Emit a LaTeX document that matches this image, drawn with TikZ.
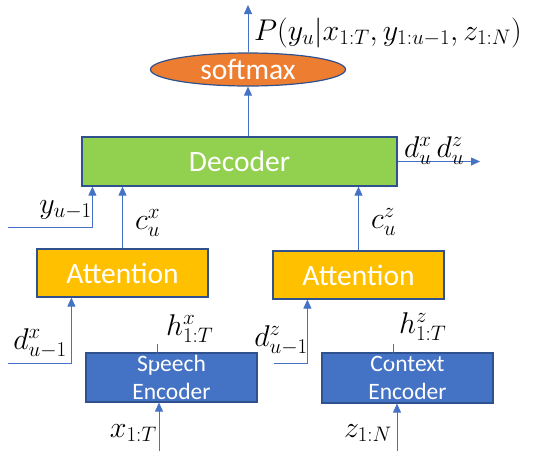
\RequirePackage{fix-cm}
\documentclass[tikz,border=0pt]{standalone}
\usepackage{fontspec}
\setsansfont{Carlito}
\usetikzlibrary{shapes.geometric,arrows.meta,calc}
\definecolor{decgreen}{RGB}{146,208,80}
\definecolor{smorange}{RGB}{237,125,49}
\definecolor{attgold}{RGB}{255,192,0}
\definecolor{encblue}{RGB}{68,114,196}
\definecolor{bordc}{RGB}{47,82,143}
\definecolor{linec}{RGB}{68,114,196}
\begin{document}
\begin{tikzpicture}[x=1pt,y=-1pt,
  box/.style={draw=bordc, line width=1.2pt, inner sep=0pt, text=white, font=\sffamily\fontsize{29.5}{30}\selectfont},
  encbox/.style={box, fill=encblue, minimum width=171pt, minimum height=49pt, align=center, font=\sffamily\fontsize{23.5}{28}\selectfont},
  arr/.style={draw=linec, line width=0.8pt, -{Triangle[length=9pt,width=8pt]}},
  lab/.style={inner sep=0pt, font=\fontsize{30}{32}\selectfont}]
\useasboundingbox (0,0) rectangle (541,451);
% nodes
\node[box, ellipse, fill=smorange, minimum width=195pt, minimum height=33pt] (sm) at (248,69.5) {softmax};
\node[box, fill=decgreen, minimum width=315pt, minimum height=49pt] (dec) at (239.5,161.5) {Decoder};
\node[box, fill=attgold, minimum width=171pt, minimum height=48pt] (att1) at (122.5,273) {Attention};
\node[box, fill=attgold, minimum width=171pt, minimum height=48pt] (att2) at (358.5,275) {Attention};
\node[encbox] (spe) at (171.5,377.5) {Speech\\Encoder};
\node[encbox, minimum height=50pt] (ctx) at (407.5,378) {Context\\Encoder};
% free ends
\coordinate (pout) at (248,5);
\coordinate (dout) at (480,161.5);
\coordinate (yin) at (8,227);
\coordinate (dxin) at (8,363);
\coordinate (dzin) at (274,363);
\coordinate (xin) at (159,451);
\coordinate (zin) at (397,451);
% connectors
\draw[arr] (sm.north) -- (pout);
\draw[arr] (dec.north -| sm.south) -- (sm.south);
\draw[arr] (dec.east) -- (dout);
\draw[arr] (yin) -| ($(dec.south west)+(11,0)$);
\draw[arr] (att1.north) -- (att1.north |- dec.south);
\draw[arr] (att2.north) -- (att2.north |- dec.south);
\draw[arr] (dxin) -| ($(att1.south west)+(35,0)$);
\draw[arr] ($(spe.north)+(-14.5,0)$) -- ($(spe.north)+(-14.5,0)$ |- att1.south);
\draw[arr] (dzin) -| ($(att2.south west)+(35,0)$);
\draw[arr] ($(ctx.north)+(-14.5,0)$) -- ($(ctx.north)+(-14.5,0)$ |- att2.south);
\draw[arr] (xin) -- (xin |- spe.south);
\draw[arr] (zin) -- (zin |- ctx.south);
% labels
\node[lab, anchor=base west] (lp) at (254,40) {$P(y_u|x_{1:T},y_{1:u-1},z_{1:N})$};
\node[lab, anchor=base west] (ld) at (404,157) {$d_u^x\,d_u^z$};
\node[lab, anchor=base east] (ly) at (92,213) {$y_{u-1}$};
\node[lab, anchor=base west] (lcx) at (135,229) {$c_u^x$};
\node[lab, anchor=base west] (lcz) at (371,228) {$c_u^z$};
\node[lab, anchor=base east] (ldx) at (67,349) {$d_{u-1}^x$};
\node[lab, anchor=base west] (lhx) at (166,335) {$h_{1:T}^x$};
\node[lab, anchor=base east] (ldz) at (308,346) {$d_{u-1}^z$};
\node[lab, anchor=base west] (lhz) at (399,333) {$h_{1:T}^z$};
\node[lab, anchor=base east] (lx) at (157,437) {$x_{1:T}$};
\node[lab, anchor=base east] (lz) at (392,437) {$z_{1:N}$};
\end{tikzpicture}
\end{document}
